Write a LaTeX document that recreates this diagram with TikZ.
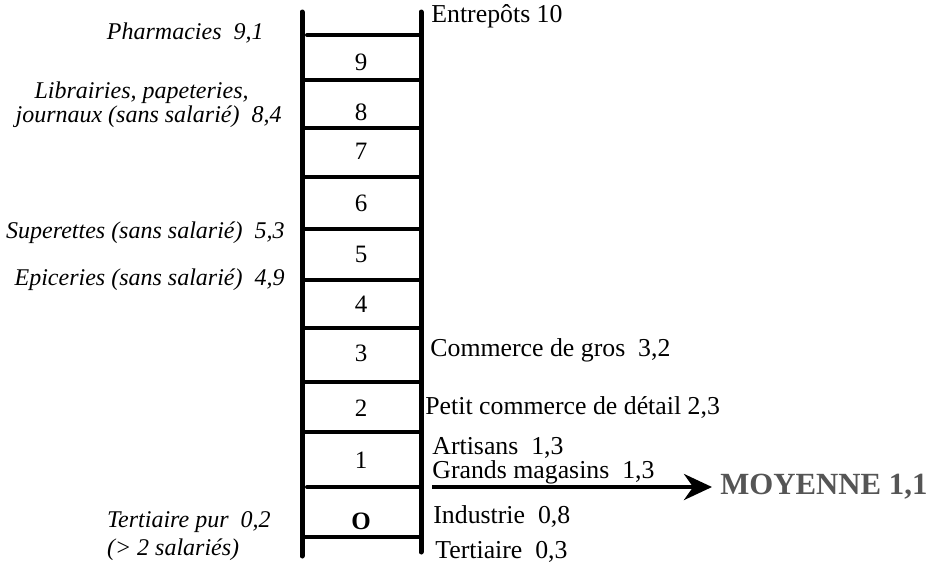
\documentclass[tikz,border=0pt]{standalone}
\usepackage{fontspec}
\setmainfont{Liberation Serif}
\usetikzlibrary{arrows.meta}
\definecolor{moygray}{HTML}{555555}
\tikzset{%
	>={Stealth[length=14pt,width=13pt]},
	rail/.style={line width=2.5pt, line cap=round},
	rung/.style={line width=2pt},
	rungnum/.style={inner sep=0pt, font=\fontsize{12.5}{13}\selectfont},
	lefttext/.style={anchor=east, inner sep=0pt, align=left, font=\fontsize{12}{12}\selectfont\itshape},
	righttext/.style={anchor=west, inner sep=0pt, font=\fontsize{12.9}{13}\selectfont},
	moyenne/.style={anchor=west, inner sep=0pt, text=moygray, font=\fontsize{15.4}{16}\selectfont\bfseries}
}
\begin{document}
\begin{tikzpicture}[x=0.5pt, y=-0.5pt]
\useasboundingbox (0,0) rectangle (933,564);

% ladder
\draw[rail] (302,12) -- (302,556);
\draw[rail] (421,12) -- (421,552);
\draw[rung, line cap=round] (307,35) -- (421,35);
\foreach \y in {80,128,177,229,280,328,382,432,537}
	\draw[rung] (302,\y) -- (421,\y);
\draw[rung, line cap=round] (307,487) -- (421,487);

\foreach \n/\y in {9/62,8/112,7/151,6/203,5/254,4/304,3/353,2/408,1/460}
	\node[rungnum] (num\n) at (361,\y) {\n};
\node[rungnum] (num0) at (361,521) {\textbf{O}};

% left side
\node[lefttext] (pharma) at (264,33) {Pharmacies~ 9,1};
\node[lefttext] (librai) at (282,105) {\hspace{9.5pt}Librairies, papeteries,\\[0pt] journaux (sans salarié)~ 8,4};
\node[lefttext] (superet) at (285,233) {Superettes (sans salarié)~ 5,3};
\node[lefttext] (epicer) at (285,280) {Epiceries (sans salarié)~ 4,9};
\node[lefttext] (tertpur) at (271,536) {Tertiaire pur~ 0,2\\[2pt] (> 2 salariés)};

% right side
\node[righttext] (entrep) at (431,16) {Entrepôts 10};
\node[righttext] (cgros) at (430,350) {Commerce de gros~ 3,2};
\node[righttext] (cdetail) at (425,408) {Petit commerce de détail 2,3};
\node[righttext] (artis) at (432,448) {Artisans~ 1,3};
\node[righttext] (gmag) at (432,472) {Grands magasins~ 1,3};
\node[righttext] (indus) at (433,517) {Industrie~ 0,8};
\node[righttext] (tert) at (435,552) {Tertiaire~ 0,3};

% average
\coordinate (avgstart) at (432,487);
\node[moyenne] (moy) at (720,487) {MOYENNE 1,1};
\draw[->, line width=2pt, shorten >=4pt] (avgstart) -- (moy.west);

\end{tikzpicture}
\end{document}
